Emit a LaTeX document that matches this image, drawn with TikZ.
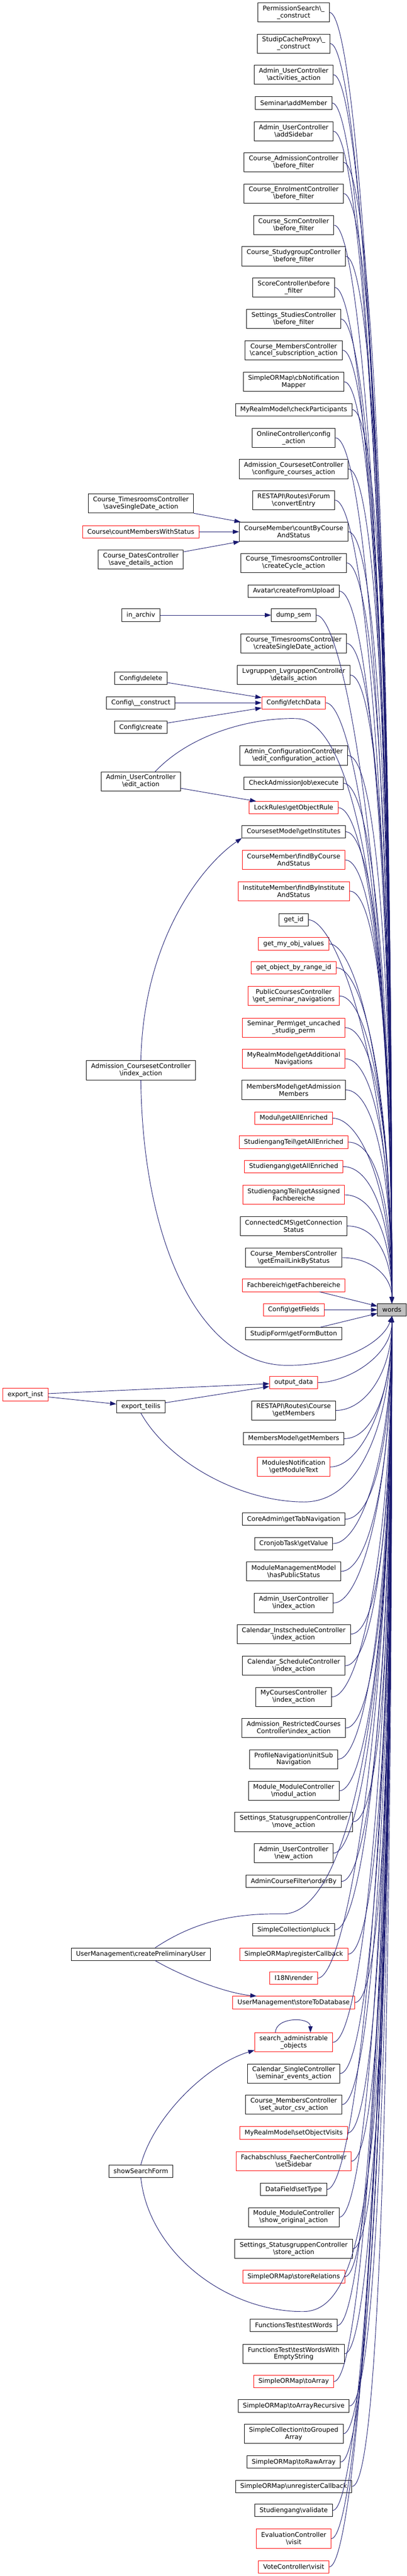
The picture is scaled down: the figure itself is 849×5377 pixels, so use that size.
\documentclass[tikz,border=0pt]{standalone}
\usepackage{fontspec}
\setmainfont{DejaVu Sans}
\usepackage{tikz}
\usepackage{xcolor}
\usetikzlibrary{arrows.meta,calc}

\definecolor{edgeblue}{HTML}{191970}
\definecolor{nodered}{HTML}{FF0000}
\definecolor{wordsgrey}{HTML}{BFBFBF}
\newcommand{\bs}{\textbackslash}

\begin{document}
\begin{tikzpicture}[x=1pt,y=-1pt,
    fn/.style={draw=black,line width=1pt,fill=white,inner xsep=10pt,inner ysep=3pt,
      minimum height=26pt,align=center,font=\fontsize{13.33}{15}\selectfont},
    two/.style={minimum height=40pt},
    trunc/.style={draw=nodered},
    call/.style={draw=edgeblue,line width=1pt,-{Triangle[length=13pt,width=9pt]}},
    tw/.style={to path={.. controls +(60,0) and ($(\tikztotarget)!.6!(\tikztotarget |- \tikztostart)$) .. (\tikztotarget)}}]
        \fill[white] (0,0) rectangle (849,5377);
        \useasboundingbox (0,0) rectangle (849,5377);

        % Called function
        \node[fn,fill=wordsgrey] (words) at (818,2734) {words};

        % Direct callers (middle column)
        \node[fn,two] (permc) at (613,26) {PermissionSearch\bs\_\\\_construct};
        \node[fn,two] (cachec) at (613,91) {StudipCacheProxy\bs\_\\\_construct};
        \node[fn,two] (uact) at (613,156) {Admin\_UserController\\\bs activities\_action};
        \node[fn] (addmem) at (613,215) {Seminar\bs addMember};
        \node[fn,two] (usidebar) at (613,274) {Admin\_UserController\\\bs addSidebar};
        \node[fn,two] (admbf) at (613,339) {Course\_AdmissionController\\\bs before\_filter};
        \node[fn,two] (enrbf) at (613,404) {Course\_EnrolmentController\\\bs before\_filter};
        \node[fn,two] (scmbf) at (613,470) {Course\_ScmController\\\bs before\_filter};
        \node[fn,two] (sgbf) at (613,535) {Course\_StudygroupController\\\bs before\_filter};
        \node[fn,two] (scorebf) at (613,600) {ScoreController\bs before\\\_filter};
        \node[fn,two] (studbf) at (613,666) {Settings\_StudiesController\\\bs before\_filter};
        \node[fn,two] (cancelsub) at (613,731) {Course\_MembersController\\\bs cancel\_subscription\_action};
        \node[fn,two] (cbnotif) at (613,797) {SimpleORMap\bs cbNotification\\Mapper};
        \node[fn] (checkpart) at (613,855) {MyRealmModel\bs checkParticipants};
        \node[fn,two] (onlinecfg) at (613,914) {OnlineController\bs config\\\_action};
        \node[fn,two] (confcourses) at (613,979) {Admission\_CoursesetController\\\bs configure\_courses\_action};
        \node[fn,two] (convent) at (613,1044) {RESTAPI\bs Routes\bs Forum\\\bs convertEntry};
        \node[fn,two] (countbc) at (613,1110) {CourseMember\bs countByCourse\\AndStatus};
        \node[fn,two] (createcyc) at (613,1175) {Course\_TimesroomsController\\\bs createCycle\_action};
        \node[fn] (avatar) at (613,1234) {Avatar\bs createFromUpload};
        \node[fn] (dumpsem) at (613,1284) {dump\_sem};
        \node[fn,two] (createsd) at (613,1343) {Course\_TimesroomsController\\\bs createSingleDate\_action};
        \node[fn,two] (lvdet) at (613,1409) {Lvgruppen\_LvgruppenController\\\bs details\_action};
        \node[fn,trunc] (fetchdata) at (613,1467) {Config\bs fetchData};
        \node[fn,two] (editcfg) at (613,1577) {Admin\_ConfigurationController\\\bs edit\_configuration\_action};
        \node[fn] (checkadm) at (613,1635) {CheckAdmissionJob\bs execute};
        \node[fn,trunc] (lockrule) at (613,1686) {LockRules\bs getObjectRule};
        \node[fn] (getinst) at (613,1736) {CoursesetModel\bs getInstitutes};
        \node[fn,two,trunc] (findbc) at (613,1795) {CourseMember\bs findByCourse\\AndStatus};
        \node[fn,two,trunc] (findbi) at (613,1860) {InstituteMember\bs findByInstitute\\AndStatus};
        \node[fn] (getid) at (613,1920) {get\_id};
        \node[fn,trunc] (getmyobj) at (613,1970) {get\_my\_obj\_values};
        \node[fn,trunc] (getobjrange) at (613,2020) {get\_object\_by\_range\_id};
        \node[fn,two,trunc] (getsemnav) at (613,2079) {PublicCoursesController\\\bs get\_seminar\_navigations};
        \node[fn,two,trunc] (uncperm) at (613,2145) {Seminar\_Perm\bs get\_uncached\\\_studip\_perm};
        \node[fn,two,trunc] (addnav) at (613,2210) {MyRealmModel\bs getAdditional\\Navigations};
        \node[fn,two] (admmem) at (613,2275) {MembersModel\bs getAdmission\\Members};
        \node[fn,trunc] (modenr) at (613,2334) {Modul\bs getAllEnriched};
        \node[fn,trunc] (stgteilenr) at (613,2384) {StudiengangTeil\bs getAllEnriched};
        \node[fn,trunc] (stgenr) at (613,2435) {Studiengang\bs getAllEnriched};
        \node[fn,two,trunc] (assfb) at (613,2494) {StudiengangTeil\bs getAssigned\\Fachbereiche};
        \node[fn,two] (connstat) at (613,2559) {ConnectedCMS\bs getConnection\\Status};
        \node[fn,two] (emaillink) at (613,2625) {Course\_MembersController\\\bs getEmailLinkByStatus};
        \node[fn,trunc] (getfb) at (613,2683) {Fachbereich\bs getFachbereiche};
        \node[fn,trunc] (getfields) at (613,2734) {Config\bs getFields};
        \node[fn] (formbtn) at (613,2784) {StudipForm\bs getFormButton};
        \node[fn,trunc] (outdata) at (613,2886) {output\_data};
        \node[fn,two] (restmem) at (613,2944) {RESTAPI\bs Routes\bs Course\\\bs getMembers};
        \node[fn] (getmem) at (613,3003) {MembersModel\bs getMembers};
        \node[fn,two,trunc] (modtext) at (613,3062) {ModulesNotification\\\bs getModuleText};
        \node[fn] (tabnav) at (613,3171) {CoreAdmin\bs getTabNavigation};
        \node[fn] (cronval) at (613,3222) {CronjobTask\bs getValue};
        \node[fn,two] (pubstat) at (613,3280) {ModuleManagementModel\\\bs hasPublicStatus};
        \node[fn,two] (uindex) at (613,3346) {Admin\_UserController\\\bs index\_action};
        \node[fn,two] (instidx) at (613,3411) {Calendar\_InstscheduleController\\\bs index\_action};
        \node[fn,two] (schedidx) at (613,3477) {Calendar\_ScheduleController\\\bs index\_action};
        \node[fn,two] (mycidx) at (613,3542) {MyCoursesController\\\bs index\_action};
        \node[fn,two] (restridx) at (613,3607) {Admission\_RestrictedCourses\\Controller\bs index\_action};
        \node[fn,two] (subnav) at (613,3672) {ProfileNavigation\bs initSub\\Navigation};
        \node[fn,two] (modulact) at (613,3738) {Module\_ModuleController\\\bs modul\_action};
        \node[fn,two] (moveact) at (613,3803) {Settings\_StatusgruppenController\\\bs move\_action};
        \node[fn,two] (unew) at (613,3868) {Admin\_UserController\\\bs new\_action};
        \node[fn] (orderby) at (613,3927) {AdminCourseFilter\bs orderBy};
        \node[fn] (pluck) at (613,4028) {SimpleCollection\bs pluck};
        \node[fn,trunc] (regcb) at (613,4079) {SimpleORMap\bs registerCallback};
        \node[fn,trunc] (render) at (613,4129) {I18N\bs render};
        \node[fn,trunc] (storedb) at (613,4180) {UserManagement\bs storeToDatabase};
        \node[fn,two,trunc] (searchadm) at (613,4263) {search\_administrable\\\_objects};
        \node[fn,two] (semevents) at (613,4328) {Calendar\_SingleController\\\bs seminar\_events\_action};
        \node[fn,two] (autorcsv) at (613,4393) {Course\_MembersController\\\bs set\_autor\_csv\_action};
        \node[fn,trunc] (objvisits) at (613,4452) {MyRealmModel\bs setObjectVisits};
        \node[fn,two,trunc] (fachside) at (613,4511) {Fachabschluss\_FaecherController\\\bs setSidebar};
        \node[fn] (settype) at (613,4570) {DataField\bs setType};
        \node[fn,two] (showorig) at (613,4628) {Module\_ModuleController\\\bs show\_original\_action};
        \node[fn,two] (storeact) at (613,4694) {Settings\_StatusgruppenController\\\bs store\_action};
        \node[fn,trunc] (storerel) at (613,4752) {SimpleORMap\bs storeRelations};
        \node[fn] (testwords) at (613,4854) {FunctionsTest\bs testWords};
        \node[fn,two] (testempty) at (613,4913) {FunctionsTest\bs testWordsWith\\EmptyString};
        \node[fn,trunc] (toarray) at (613,4971) {SimpleORMap\bs toArray};
        \node[fn] (toarrrec) at (613,5022) {SimpleORMap\bs toArrayRecursive};
        \node[fn,two] (grouped) at (613,5080) {SimpleCollection\bs toGrouped\\Array};
        \node[fn] (rawarray) at (613,5139) {SimpleORMap\bs toRawArray};
        \node[fn] (unregcb) at (613,5190) {SimpleORMap\bs unregisterCallback};
        \node[fn] (validate) at (613,5240) {Studiengang\bs validate};
        \node[fn,two,trunc] (evalvisit) at (613,5299) {EvaluationController\\\bs visit};
        \node[fn,trunc] (votevisit) at (613,5358) {VoteController\bs visit};

        % Callers of callers (left column)
        \node[fn,two] (savesd) at (294,1051) {Course\_TimesroomsController\\\bs saveSingleDate\_action};
        \node[fn,trunc] (countmws) at (294,1110) {Course\bs countMembersWithStatus};
        \node[fn,two] (savedet) at (294,1168) {Course\_DatesController\\\bs save\_details\_action};
        \node[fn] (inarchiv) at (294,1284) {in\_archiv};
        \node[fn] (cfgdel) at (294,1416) {Config\bs delete};
        \node[fn] (cfgcons) at (294,1467) {Config\bs\_\_construct};
        \node[fn] (cfgcreate) at (294,1518) {Config\bs create};
        \node[fn,two] (uedit) at (294,1631) {Admin\_UserController\\\bs edit\_action};
        \node[fn,two] (admidx) at (294,2234) {Admission\_CoursesetController\\\bs index\_action};
        \node[fn,trunc] (expinst) at (53,2911) {export\_inst};
        \node[fn] (expteilis) at (294,2936) {export\_teilis};
        \node[fn] (createpre) at (294,4079) {UserManagement\bs createPreliminaryUser};
        \node[fn] (showsearch) at (294,4532) {showSearchForm};

        % Edges into words from above
        \draw[call] (permc.east) to[tw] (words.north);
        \draw[call] (cachec.east) to[tw] (words.north);
        \draw[call] (uact.east) to[tw] (words.north);
        \draw[call] (addmem.east) to[tw] (words.north);
        \draw[call] (usidebar.east) to[tw] (words.north);
        \draw[call] (admbf.east) to[tw] (words.north);
        \draw[call] (enrbf.east) to[tw] (words.north);
        \draw[call] (scmbf.east) to[tw] (words.north);
        \draw[call] (sgbf.east) to[tw] (words.north);
        \draw[call] (scorebf.east) to[tw] (words.north);
        \draw[call] (studbf.east) to[tw] (words.north);
        \draw[call] (cancelsub.east) to[tw] (words.north);
        \draw[call] (cbnotif.east) to[tw] (words.north);
        \draw[call] (checkpart.east) to[tw] (words.north);
        \draw[call] (onlinecfg.east) to[tw] (words.north);
        \draw[call] (confcourses.east) to[tw] (words.north);
        \draw[call] (convent.east) to[tw] (words.north);
        \draw[call] (countbc.east) to[tw] (words.north);
        \draw[call] (createcyc.east) to[tw] (words.north);
        \draw[call] (avatar.east) to[tw] (words.north);
        \draw[call] (dumpsem.east) to[tw] (words.north);
        \draw[call] (createsd.east) to[tw] (words.north);
        \draw[call] (lvdet.east) to[tw] (words.north);
        \draw[call] (fetchdata.east) to[tw] (words.north);
        \draw[call] (editcfg.east) to[tw] (words.north);
        \draw[call] (checkadm.east) to[tw] (words.north);
        \draw[call] (lockrule.east) to[tw] (words.north);
        \draw[call] (getinst.east) to[tw] (words.north);
        \draw[call] (findbc.east) to[tw] (words.north);
        \draw[call] (findbi.east) to[tw] (words.north);
        \draw[call] (getid.east) to[tw] (words.north);
        \draw[call] (getmyobj.east) to[tw] (words.north);
        \draw[call] (getobjrange.east) to[tw] (words.north);
        \draw[call] (getsemnav.east) to[tw] (words.north);
        \draw[call] (uncperm.east) to[tw] (words.north);
        \draw[call] (addnav.east) to[tw] (words.north);
        \draw[call] (admmem.east) to[tw] (words.north);
        \draw[call] (modenr.east) to[tw] (words.north);
        \draw[call] (stgteilenr.east) to[tw] (words.north);
        \draw[call] (stgenr.east) to[tw] (words.north);
        \draw[call] (assfb.east) to[tw] (words.north);
        \draw[call] (connstat.east) to[tw] (words.north);
        \draw[call] (emaillink.east) to[tw] (words.north);
        \draw[call] (getfb) -- (words);
        \draw[call] (getfields) -- (words);
        \draw[call] (formbtn) -- (words);

        % Edges into words from below
        \draw[call] (outdata.east) to[tw] (words.south);
        \draw[call] (restmem.east) to[tw] (words.south);
        \draw[call] (getmem.east) to[tw] (words.south);
        \draw[call] (modtext.east) to[tw] (words.south);
        \draw[call] (tabnav.east) to[tw] (words.south);
        \draw[call] (cronval.east) to[tw] (words.south);
        \draw[call] (pubstat.east) to[tw] (words.south);
        \draw[call] (uindex.east) to[tw] (words.south);
        \draw[call] (instidx.east) to[tw] (words.south);
        \draw[call] (schedidx.east) to[tw] (words.south);
        \draw[call] (mycidx.east) to[tw] (words.south);
        \draw[call] (restridx.east) to[tw] (words.south);
        \draw[call] (subnav.east) to[tw] (words.south);
        \draw[call] (modulact.east) to[tw] (words.south);
        \draw[call] (moveact.east) to[tw] (words.south);
        \draw[call] (unew.east) to[tw] (words.south);
        \draw[call] (orderby.east) to[tw] (words.south);
        \draw[call] (pluck.east) to[tw] (words.south);
        \draw[call] (regcb.east) to[tw] (words.south);
        \draw[call] (render.east) to[tw] (words.south);
        \draw[call] (storedb.east) to[tw] (words.south);
        \draw[call] (searchadm.east) to[tw] (words.south);
        \draw[call] (semevents.east) to[tw] (words.south);
        \draw[call] (autorcsv.east) to[tw] (words.south);
        \draw[call] (objvisits.east) to[tw] (words.south);
        \draw[call] (fachside.east) to[tw] (words.south);
        \draw[call] (settype.east) to[tw] (words.south);
        \draw[call] (showorig.east) to[tw] (words.south);
        \draw[call] (storeact.east) to[tw] (words.south);
        \draw[call] (storerel.east) to[tw] (words.south);
        \draw[call] (testwords.east) to[tw] (words.south);
        \draw[call] (testempty.east) to[tw] (words.south);
        \draw[call] (toarray.east) to[tw] (words.south);
        \draw[call] (toarrrec.east) to[tw] (words.south);
        \draw[call] (grouped.east) to[tw] (words.south);
        \draw[call] (rawarray.east) to[tw] (words.south);
        \draw[call] (unregcb.east) to[tw] (words.south);
        \draw[call] (validate.east) to[tw] (words.south);
        \draw[call] (evalvisit.east) to[tw] (words.south);
        \draw[call] (votevisit.east) to[tw] (words.south);

        % Left column edges
        \draw[call] (savesd) -- (countbc);
        \draw[call] (countmws) -- (countbc);
        \draw[call] (savedet) -- (countbc);
        \draw[call] (inarchiv) -- (dumpsem);
        \draw[call] (cfgdel) -- (fetchdata);
        \draw[call] (cfgcons) -- (fetchdata);
        \draw[call] (cfgcreate) -- (fetchdata);
        \draw[call] (uedit) -- (lockrule);
        \draw[call] ([xshift=30pt]uedit.north) .. controls (400,1530) and (530,1497) .. (620,1500)
            .. controls (720,1503) and (818,1800) .. (words.north);
        \draw[call] (admidx.north) .. controls (300,1950) and (430,1800) .. (getinst.south west);
        \draw[call] (admidx.south) .. controls (298,2600) and (420,2850) .. (600,2850)
            .. controls (720,2850) and (800,2800) .. (words.south);
        \draw[call] (expinst) -- (outdata);
        \draw[call] (expinst) -- (expteilis);
        \draw[call] (expteilis) -- (outdata);
        \draw[call] (expteilis.south) .. controls (350,3050) and (500,3135) .. (635,3135)
            .. controls (760,3135) and (818,2950) .. (words.south);
        \draw[call] ([xshift=30pt]createpre.south) .. controls (380,4125) and (470,4160) .. ([xshift=50pt]storedb.north west);
        \draw[call] ([xshift=30pt]createpre.north) .. controls (400,4015) and (480,3993) .. (590,3995)
            .. controls (700,3997) and (818,3700) .. (words.south);
        \draw[call] (showsearch.north) .. controls (320,4420) and (430,4310) .. ([yshift=4pt]searchadm.south west);
        \draw[call] (showsearch.south) .. controls (310,4700) and (470,4825) .. (632,4825)
            .. controls (780,4825) and (818,4450) .. (words.south);
        \draw[call] ([xshift=-38pt]searchadm.north) .. controls +(0,-33) and +(0,-33) .. ([xshift=35pt]searchadm.north);
\end{tikzpicture}
\end{document}
